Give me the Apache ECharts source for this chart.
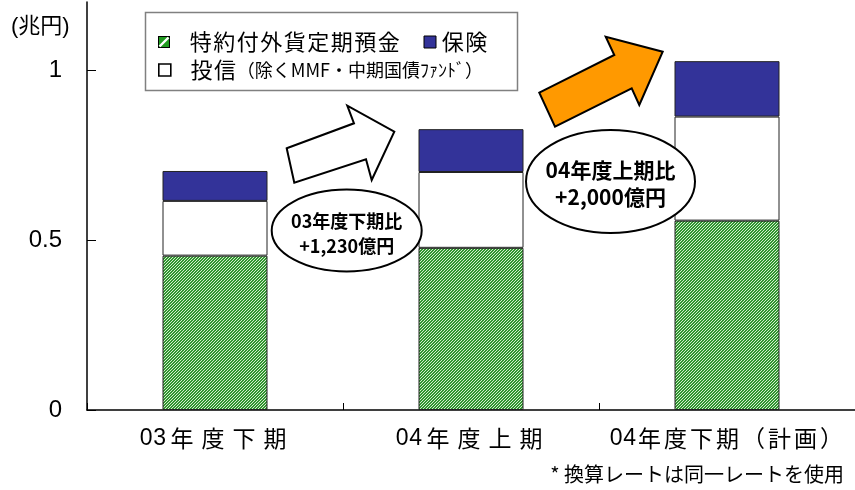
<!DOCTYPE html>
<html>
<head>
<meta charset="utf-8">
<script src="https://cdn.jsdelivr.net/npm/echarts@6/dist/echarts.min.js"></script>
<style>
  html, body { margin: 0; padding: 0; background: #fff; }
  #main { width: 855px; height: 490px; }
</style>
</head>
<body>
<div id="main"></div>
<script>
// Categories and stacked values (兆円)
const categories = ['03年度下期', '04年度上期', '04年度下期（計画）'];
const seriesNames = ['特約付外貨定期預金', '保険', '投信（除くMMF・中期国債ﾌｧﾝﾄﾞ）'];
const depositValues = [0.454, 0.477, 0.557];
const trustValues = [0.161, 0.223, 0.306];
const insuranceValues = [0.088, 0.126, 0.163];
const yTicks = [0, 0.5, 1];
const unitLabel = '(兆円)';
const calloutLines = [['03年度下期比', '+1,230億円'], ['04年度上期比', '+2,000億円']];
const footnote = '* 換算レートは同一レートを使用';

const LAT = "'Liberation Sans', 'Noto Sans CJK JP', sans-serif";
const CJK = "'Noto Sans CJK JP', 'Liberation Sans', sans-serif";

// Diagonal green hatch used for the deposit segments
function hatchCanvas() {
  const c = document.createElement('canvas');
  c.width = 3; c.height = 3;
  const g = c.getContext('2d');
  g.fillStyle = '#2f962f';
  g.fillRect(0, 0, 3, 3);
  g.fillStyle = '#d6eccf';
  for (let x = 0; x < 3; x++) {
    for (let y = 0; y < 3; y++) {
      if ((x + y) % 3 === 0) g.fillRect(x, y, 1, 1);
    }
  }
  return c;
}

// Legend swatch for the deposit series: green square with a white slash
function depositIcon() {
  const c = document.createElement('canvas');
  c.width = 12; c.height = 12;
  const g = c.getContext('2d');
  g.fillStyle = '#000';
  g.fillRect(0, 0, 12, 12);
  g.fillStyle = '#1f9a1f';
  g.fillRect(1, 1, 10, 10);
  g.strokeStyle = '#fff';
  g.lineWidth = 2.4;
  g.beginPath();
  g.moveTo(1.5, 10.5);
  g.lineTo(10.5, 1.5);
  g.stroke();
  return 'image://' + c.toDataURL();
}

// Lay out text with a fixed cell for every full-width character
function spaced(text, cjkStyle, asciiStyle) {
  return Array.from(text).map(function (ch) {
    return ch.charCodeAt(0) < 0x80 ? '{' + asciiStyle + '|' + ch + '}' : '{' + cjkStyle + '|' + ch + '}';
  }).join('');
}

const chart = echarts.init(document.getElementById('main'), null, { renderer: 'canvas' });

const legendRich = {
  sp: { width: 14, fontSize: 22, lineHeight: 24 },
  lc: { width: 23.5, align: 'center', fontSize: 22, lineHeight: 24, fontFamily: CJK, color: '#000' },
  la: { fontSize: 22, lineHeight: 24, fontFamily: LAT, color: '#000' },
  sm: { fontSize: 18, lineHeight: 24, fontFamily: CJK, color: '#000' }
};

function legendText(name) {
  if (name === seriesNames[0]) return '{sp| }' + spaced(name, 'lc', 'la');
  if (name === seriesNames[2]) {
    const cut = name.indexOf('（');
    return '{sp| }' + spaced(name.slice(0, cut), 'lc', 'la') + '{sm|' + name.slice(cut) + '}';
  }
  return spaced(name, 'lc', 'la');
}

const barBase = {
  type: 'bar',
  stack: 'total',
  barWidth: 105,
  emphasis: { disabled: true }
};

function calloutText(x, y, text, size) {
  return {
    type: 'text', z: 11, x: x, y: y,
    style: {
      text: text, fontSize: size, fontWeight: 'bold', fontFamily: CJK,
      fill: '#000', align: 'center', verticalAlign: 'middle'
    }
  };
}

chart.setOption({
  animation: false,
  backgroundColor: '#fff',
  grid: { left: 87, top: 2, width: 783, height: 408 },
  legend: [
    {
      left: 158, top: 31, padding: 0, itemGap: 23,
      itemWidth: 12, itemHeight: 12, selectedMode: false,
      formatter: legendText,
      textStyle: { rich: legendRich, color: '#000' },
      data: [
        { name: seriesNames[0], icon: depositIcon() },
        { name: seriesNames[1], icon: 'rect', itemStyle: { borderColor: '#000', borderWidth: 1 } }
      ]
    },
    {
      left: 158, top: 59, padding: 0,
      itemWidth: 12, itemHeight: 12, selectedMode: false,
      formatter: legendText,
      textStyle: { rich: legendRich, color: '#000' },
      data: [
        { name: seriesNames[2], icon: 'rect', itemStyle: { color: '#fff', borderColor: '#000', borderWidth: 1.6 } }
      ]
    }
  ],
  xAxis: {
    type: 'category',
    data: categories,
    axisLine: { lineStyle: { color: '#000', width: 1.5 } },
    axisTick: { show: true, inside: true, length: 7, interval: 0, lineStyle: { color: '#000', width: 1 } },
    axisLabel: {
      interval: 0,
      margin: 17,
      formatter: function (v, i) { return spaced(v, i < 2 ? 'cw' : 'cn', 'd'); },
      rich: {
        cw: { width: 31, align: 'center', fontSize: 23, fontFamily: CJK, color: '#000' },
        cn: { width: 26, align: 'center', fontSize: 23, fontFamily: CJK, color: '#000' },
        d: { width: 13.5, align: 'center', fontSize: 23, fontFamily: LAT, color: '#000' }
      }
    }
  },
  yAxis: {
    type: 'value',
    min: 0,
    max: 1.2,
    interval: 0.5,
    axisLine: { show: true, lineStyle: { color: '#000', width: 1.5 } },
    axisTick: { show: true, inside: true, length: 9, customValues: yTicks, lineStyle: { color: '#000', width: 1 } },
    axisLabel: { customValues: yTicks, margin: 25, fontSize: 24, fontFamily: LAT, color: '#000' },
    splitLine: { show: false }
  },
  series: [
    Object.assign({}, barBase, {
      name: seriesNames[0],
      data: depositValues,
      itemStyle: { color: { image: hatchCanvas(), repeat: 'repeat' }, borderColor: '#222', borderWidth: 1 }
    }),
    Object.assign({}, barBase, {
      name: seriesNames[2],
      data: trustValues,
      itemStyle: { color: '#fff', borderColor: '#222', borderWidth: 1 }
    }),
    Object.assign({}, barBase, {
      name: seriesNames[1],
      data: insuranceValues,
      itemStyle: { color: '#333399', borderColor: '#222', borderWidth: 1 }
    })
  ],
  graphic: [
    // legend frame
    { type: 'rect', z: 0, shape: { x: 145.5, y: 12.5, width: 372, height: 78 },
      style: { fill: '#fff', stroke: '#808080', lineWidth: 1.5 } },
    // unit label
    { type: 'text', x: 11, y: 27, z: 5,
      style: { text: unitLabel, fontSize: 22, fontFamily: LAT, fill: '#000', verticalAlign: 'middle' } },
    // growth arrows
    { type: 'polygon', z: 10,
      shape: { points: [[286.7, 148.3], [354, 123.3], [347.3, 105.7], [394.3, 131.7], [371.7, 180], [366, 159.3], [294.3, 182.7]] },
      style: { fill: '#fff', stroke: '#000', lineWidth: 2, lineJoin: 'miter' } },
    { type: 'polygon', z: 10,
      shape: { points: [[539.3, 92.7], [614.3, 55], [605.7, 36.7], [662.7, 51.7], [639.3, 105], [631.7, 88.3], [555, 126.7]] },
      style: { fill: '#ff9900', stroke: '#000', lineWidth: 2, lineJoin: 'miter' } },
    // callout bubbles
    { type: 'ellipse', z: 10, shape: { cx: 346.7, cy: 230.5, rx: 75, ry: 41 },
      style: { fill: '#fff', stroke: '#000', lineWidth: 2 } },
    calloutText(346.7, 221, calloutLines[0][0], 18),
    calloutText(346.7, 246, calloutLines[0][1], 18),
    { type: 'ellipse', z: 10, shape: { cx: 610.5, cy: 181.5, rx: 84.5, ry: 51.5 },
      style: { fill: '#fff', stroke: '#000', lineWidth: 2 } },
    calloutText(610.5, 170.5, calloutLines[1][0], 21),
    calloutText(610.5, 197.5, calloutLines[1][1], 21),
    // footnote
    { type: 'text', z: 5, x: 844, y: 474,
      style: { text: footnote, fontSize: 20, fontFamily: CJK, fill: '#000', align: 'right', verticalAlign: 'middle' } }
  ]
});
</script>
</body>
</html>
